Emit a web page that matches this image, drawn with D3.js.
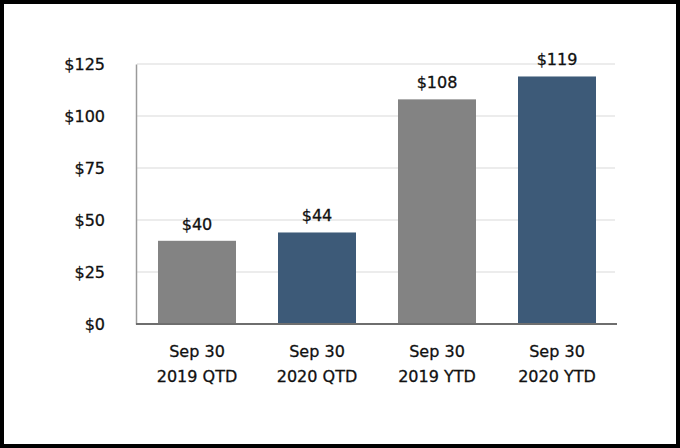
<!DOCTYPE html>
<html><head><meta charset="utf-8">
<script src="https://cdn.jsdelivr.net/npm/d3@7"></script>
<style>body{margin:0;background:#fff}svg{display:block}</style>
</head><body>
<svg id="c" width="680" height="448"></svg>
<script>
const categoriesLine1 = ["Sep 30", "Sep 30", "Sep 30", "Sep 30"];
const categoriesLine2 = ["2019 QTD", "2020 QTD", "2019 YTD", "2020 YTD"];
const values = [40, 44, 108, 119];
const barColors = ["#838383", "#3d5a78", "#838383", "#3d5a78"];
const yTicks = [0, 25, 50, 75, 100, 125];

const svg = d3.select("#c");
const font = "DejaVu Sans, sans-serif";
svg.append("rect").attr("x",2).attr("y",2).attr("width",676).attr("height",444)
  .attr("fill","#fff").attr("stroke","#000").attr("stroke-width",4);

const keys = categoriesLine2;
const x = d3.scaleBand().domain(keys).range([137, 617]).paddingInner(0.35).paddingOuter(0.175);
const y = d3.scaleLinear().domain([0, 125]).range([324, 64]);

// gridlines
svg.append("g").selectAll("line").data(yTicks.filter(d=>d>0)).join("line")
  .attr("x1",137).attr("x2",615).attr("y1",d=>y(d)).attr("y2",d=>y(d))
  .attr("stroke","#e6e6e6").attr("stroke-width",1.5);

// y axis
const yAxis = svg.append("g").attr("transform","translate(136,0)")
  .call(d3.axisLeft(y).tickValues(yTicks).tickFormat(d=>"$"+d).tickSize(0).tickPadding(31));
yAxis.select(".domain").attr("stroke","#9a9a9a").attr("stroke-width",1.5);
yAxis.selectAll("text").attr("font-family",font).attr("font-size",16).attr("fill","#111")
  .attr("stroke","#111").attr("stroke-width",0.3);

// bars
svg.append("g").selectAll("rect").data(values).join("rect")
  .attr("x",(d,i)=>x(keys[i])).attr("width",x.bandwidth())
  .attr("y",d=>y(d)).attr("height",d=>y(0)-y(d))
  .attr("fill",(d,i)=>barColors[i]);

// value labels
svg.append("g").selectAll("text").data(values).join("text")
  .attr("x",(d,i)=>x(keys[i])+x.bandwidth()/2).attr("y",d=>y(d)-11)
  .attr("text-anchor","middle").attr("font-family",font).attr("font-size",16).attr("fill","#111")
  .attr("stroke","#111").attr("stroke-width",0.3)
  .text(d=>"$"+d);

// x axis
const xAxis = svg.append("g").attr("transform","translate(0,324)")
  .call(d3.axisBottom(x).tickSize(0).tickFormat(""));
xAxis.select(".domain").attr("stroke","#6e6e6e").attr("stroke-width",2).attr("d","M136,0H617");

const xl = svg.append("g").selectAll("text").data(keys).join("text")
  .attr("text-anchor","middle").attr("font-family",font).attr("font-size",16).attr("fill","#111")
  .attr("stroke","#111").attr("stroke-width",0.3)
  .attr("transform",d=>`translate(${x(d)+x.bandwidth()/2},0)`);
xl.append("tspan").attr("x",0).attr("y",357).text((d,i)=>categoriesLine1[i]);
xl.append("tspan").attr("x",0).attr("y",382).text(d=>d);
</script>
</body></html>
